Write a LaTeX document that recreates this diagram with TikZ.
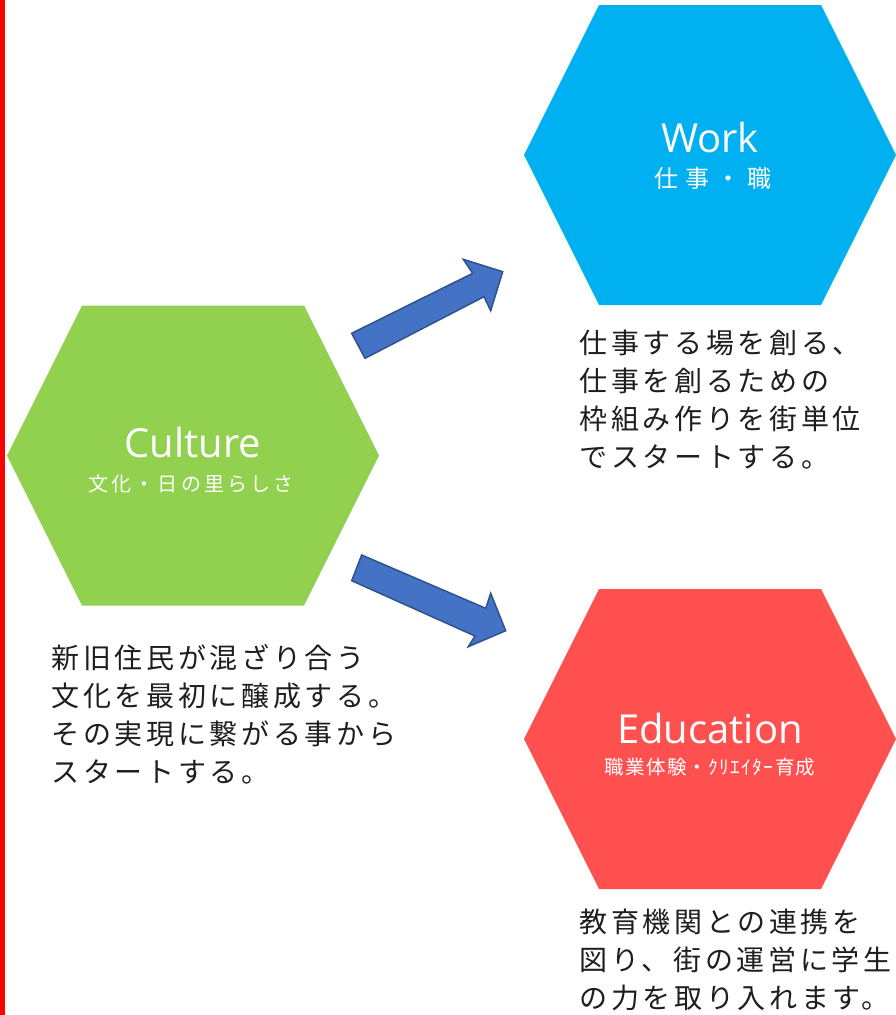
\documentclass[tikz,border=0pt]{standalone}
\usepackage{fontspec}
\setmainfont{Open Sans}
\newfontfamily\jpbody[LetterSpace=13]{Noto Sans CJK JP}
\newfontfamily\jpwork[LetterSpace=30]{Noto Sans CJK JP}
\newfontfamily\jpcult[LetterSpace=16]{Noto Sans CJK JP}
\newfontfamily\jpedu[LetterSpace=6.7]{Noto Sans CJK JP}
\definecolor{cgreen}{RGB}{146,208,80}
\definecolor{cblue}{RGB}{0,176,240}
\definecolor{cred}{RGB}{255,80,80}
\definecolor{carrow}{RGB}{68,114,196}
\definecolor{carrowline}{RGB}{47,82,143}
\definecolor{cline}{RGB}{255,0,0}
\definecolor{ctext}{RGB}{30,30,30}
\tikzset{
  hexa/.pic={\path[pic actions] (-186,0) -- (-111,-150) -- (111,-150) -- (186,0) -- (111,150) -- (-111,150) -- cycle;},
  titletext/.style={inner sep=0, anchor=base, text=white, font=\fontsize{40}{48}\selectfont},
  subtext/.style={inner sep=0, anchor=base, text=white},
  bodytext/.style={inner sep=0, anchor=base west, align=left, text=ctext, font=\jpbody\fontsize{28}{38}\selectfont},
  blockarrow/.style={fill=carrow, draw=carrowline, line width=1.5pt, line join=miter}
}
\begin{document}
\begin{tikzpicture}[x=1pt,y=-1pt]
\useasboundingbox (0,0) rectangle (895,1015);
\fill[cline] (0,0) rectangle (5,1015);

% hexagon centres
\coordinate (culture) at (193,455.5);
\coordinate (work) at (710,155);
\coordinate (edu) at (710,739);

\pic[fill=cgreen] at (culture) {hexa};
\pic[fill=cblue] at (work) {hexa};
\pic[fill=cred] at (edu) {hexa};

% titles
\node[titletext] (culturet) at (193,457) {Culture};
\node[subtext, font=\jpcult\fontsize{20}{24}\selectfont] (cultures) at (191,491.5) {文化・日の里らしさ};
\node[titletext] (workt) at (710,152) {Work};
\node[subtext, font=\jpwork\fontsize{24}{28}\selectfont] (works) at (713,187) {仕事・職};
\node[titletext] (edut) at (710,743) {Education};
\node[subtext, font=\jpedu\fontsize{19.5}{24}\selectfont] (edus) at (710,774.5) {職業体験・ｸﾘｴｲﾀｰ育成};

% descriptions (base anchor = baseline of last line)
\node[bodytext] (workd) at (579.5,467) {仕事する場を創る、\\仕事を創るための\\枠組み作りを街単位\\でスタートする。};
\node[bodytext] (cultured) at (51.5,782) {新旧住民が混ざり合う\\文化を最初に醸成する。\\その実現に繋がる事から\\スタートする。};
\node[bodytext] (edud) at (579.5,1008) {教育機関との連携を\\図り、街の運営に学生\\の力を取り入れます。};

% block arrows
\filldraw[blockarrow] (351.7,333.3) -- (472.7,273.3) -- (463.3,259.3) -- (502.7,271.7) -- (490.7,310.7) -- (484,296.7) -- (365,358.3) -- cycle;
\filldraw[blockarrow] (361.7,555) -- (485.7,608.3) -- (490.7,593.3) -- (505.7,630.7) -- (468.3,646.7) -- (475,636) -- (351.7,580.7) -- cycle;
\end{tikzpicture}
\end{document}
